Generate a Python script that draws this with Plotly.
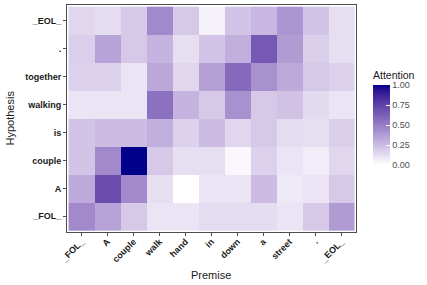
import numpy as np
import plotly.graph_objects as go

premise = ["_FOL_", "A", "couple", "walk", "hand", "in", "down", "a", "street", ".", "_EOL_"]
hypothesis = ["_FOL_", "A", "couple", "is", "walking", "together", ".", "_EOL_"]

# rows bottom -> top, matching hypothesis order
row_FOL = [0.45, 0.35, 0.20, 0.10, 0.10, 0.13, 0.13, 0.13, 0.10, 0.20, 0.38]
row_A = [0.32, 0.70, 0.45, 0.12, 0.00, 0.10, 0.10, 0.25, 0.08, 0.10, 0.20]
row_couple = [0.22, 0.45, 1.00, 0.20, 0.12, 0.12, 0.03, 0.17, 0.10, 0.07, 0.15]
row_is = [0.22, 0.25, 0.25, 0.30, 0.17, 0.25, 0.15, 0.20, 0.13, 0.12, 0.18]
row_walking = [0.10, 0.10, 0.10, 0.55, 0.28, 0.20, 0.42, 0.20, 0.23, 0.14, 0.10]
row_together = [0.17, 0.17, 0.10, 0.33, 0.15, 0.36, 0.58, 0.42, 0.32, 0.20, 0.17]
row_dot = [0.18, 0.35, 0.20, 0.28, 0.12, 0.22, 0.30, 0.65, 0.38, 0.18, 0.12]
row_EOL = [0.15, 0.13, 0.20, 0.45, 0.20, 0.05, 0.22, 0.27, 0.40, 0.22, 0.12]

z = [row_FOL, row_A, row_couple, row_is, row_walking, row_together, row_dot, row_EOL]


# Lab interpolation white -> darkblue (like ggplot's gradient)
def srgb_to_lin(c):
    c = c / 255.0
    return np.where(c <= 0.04045, c / 12.92, ((c + 0.055) / 1.055) ** 2.4)


def lin_to_srgb(c):
    c = np.clip(c, 0, 1)
    v = np.where(c <= 0.0031308, 12.92 * c, 1.055 * c ** (1 / 2.4) - 0.055)
    return np.clip(np.round(v * 255), 0, 255).astype(int)


M = np.array([[0.4124, 0.3576, 0.1805], [0.2126, 0.7152, 0.0722], [0.0193, 0.1192, 0.9505]])
Minv = np.linalg.inv(M)
WP = np.array([0.95047, 1.0, 1.08883])


def f(t):
    d = 6 / 29
    return np.where(t > d ** 3, np.cbrt(t), t / (3 * d * d) + 4 / 29)


def finv(t):
    d = 6 / 29
    return np.where(t > d, t ** 3, 3 * d * d * (t - 4 / 29))


def rgb_to_lab(rgb):
    xyz = M @ srgb_to_lin(np.array(rgb, dtype=float)) / WP
    fx, fy, fz = f(xyz)
    return np.array([116 * fy - 16, 500 * (fx - fy), 200 * (fy - fz)])


def lab_to_rgb(lab):
    L, a, b = lab
    fy = (L + 16) / 116
    fx = fy + a / 500
    fz = fy - b / 200
    xyz = np.array([finv(fx), finv(fy), finv(fz)]) * WP
    return lin_to_srgb(Minv @ xyz)


lab0 = rgb_to_lab([255, 255, 255])
lab1 = rgb_to_lab([0, 0, 139])
stops = []
for t in np.linspace(0, 1, 21):
    r, g, b = lab_to_rgb(lab0 + (lab1 - lab0) * t)
    stops.append([float(t), f"rgb({r},{g},{b})"])

W, H, L, R, T, B = 427, 285, 67, 71, 5, 53
pw, ph = W - L - R, H - T - B


def px(x):
    return (x - L) / pw


def py(y):
    return (H - B - y) / ph


fig = go.Figure(go.Heatmap(
    z=z, x=premise, y=hypothesis, zmin=0, zmax=1, colorscale=stops,
    xgap=0, ygap=0,
    colorbar=dict(
        title=dict(text="Attention", side="top", font=dict(size=10.5, color="#1a1a1a")),
        x=px(373), xanchor="left", y=py(165), yanchor="bottom",
        len=97, lenmode="pixels", thickness=17, thicknessmode="pixels",
        xpad=0, ypad=0, outlinewidth=0,
        tickvals=[0, 0.25, 0.5, 0.75, 1.0], ticktext=["0.00", "0.25", "0.50", "0.75", "1.00"],
        ticks="inside", ticklen=4, tickcolor="white",
        tickfont=dict(size=9, color="#4d4d4d"),
    ),
))

fig.update_layout(
    width=W, height=H,
    margin=dict(l=L, r=R, t=T, b=B),
    paper_bgcolor="white", plot_bgcolor="white",
    font=dict(family="Liberation Sans, Arial, sans-serif"),
    annotations=[
        dict(text="Premise", x=px(211), y=py(275), xref="paper", yref="paper",
             xanchor="center", yanchor="middle", showarrow=False,
             font=dict(size=11, color="#1a1a1a")),
        dict(text="Hypothesis", x=px(9), y=py(118.5), xref="paper", yref="paper",
             xanchor="center", yanchor="middle",
             textangle=-90, showarrow=False, font=dict(size=11, color="#1a1a1a")),
    ],
)

fig.update_xaxes(
    range=[-0.56, 10.56], showgrid=False, zeroline=False,
    showline=True, linecolor="#4d4d4d", linewidth=1, mirror=True,
    ticks="outside", ticklen=3, tickcolor="#4d4d4d",
    tickangle=-45, tickfont=dict(size=9, color="#1a1a1a", weight="bold"),
    ticklabelstandoff=-3,
)
fig.update_yaxes(
    range=[-0.56, 7.56], showgrid=False, zeroline=False,
    showline=True, linecolor="#4d4d4d", linewidth=1, mirror=True,
    ticks="outside", ticklen=3, tickcolor="#4d4d4d",
    tickfont=dict(size=9, color="#1a1a1a", weight="bold"),
)

fig.write_html("out.html", post_script="document.body.style.margin='0';",
               config={"displayModeBar": False})
